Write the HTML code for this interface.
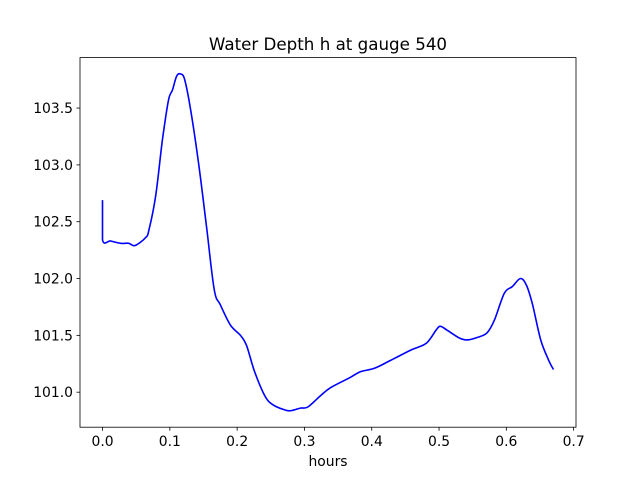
<!DOCTYPE html>
<html><head><meta charset="utf-8"><style>
body{margin:0;background:#fff}
svg text{font-family:"DejaVu Sans","Liberation Sans",sans-serif;font-size:13.9px;fill:#000}
</style></head><body>
<svg id="chart" width="640" height="480" xmlns="http://www.w3.org/2000/svg">
<rect width="640" height="480" fill="#fff"/>
<text x="328" y="50" text-anchor="middle" style="font-size:16.7px">Water Depth h at gauge 540</text>
<g id="plot"></g>
<rect x="80" y="57.6" width="496" height="369.6" fill="none" stroke="#000" stroke-width="0.8"/>
<text x="328" y="466" text-anchor="middle">hours</text>
</svg>
<script>
const hours=[0,0,0.012,0.027,0.039,0.048,0.064,0.069,0.079,0.089,0.098,0.104,0.11,0.116,0.122,0.131,0.143,0.155,0.166,0.175,0.19,0.205,0.214,0.226,0.241,0.253,0.273,0.282,0.294,0.305,0.324,0.339,0.368,0.383,0.404,0.428,0.458,0.481,0.496,0.502,0.511,0.529,0.541,0.556,0.571,0.582,0.597,0.609,0.621,0.63,0.639,0.651,0.663,0.67];
const depth=[102.69,102.34,102.33,102.31,102.31,102.29,102.36,102.43,102.73,103.22,103.57,103.66,103.78,103.8,103.75,103.48,103.0,102.43,101.9,101.77,101.59,101.5,101.41,101.18,100.97,100.89,100.84,100.84,100.86,100.87,100.97,101.04,101.13,101.18,101.21,101.28,101.37,101.43,101.55,101.58,101.55,101.48,101.46,101.48,101.52,101.63,101.87,101.93,102.0,101.94,101.77,101.46,101.28,101.2];
const xTicks=[0,0.1,0.2,0.3,0.4,0.5,0.6,0.7];
const yTicks=[101.0,101.5,102.0,102.5,103.0,103.5];
const L=80,R=576,T=57.6,B=427.2;
const xmin=-0.0335,xmax=0.7035,ymin=100.692,ymax=103.944;
const sx=v=>L+(v-xmin)/(xmax-xmin)*(R-L);
const sy=v=>B-(v-ymin)/(ymax-ymin)*(B-T);
const NS="http://www.w3.org/2000/svg";
const g=document.getElementById('plot');
function mk(t,a){const e=document.createElementNS(NS,t);for(const k in a)e.setAttribute(k,a[k]);g.appendChild(e);return e;}
xTicks.forEach(v=>{
 const x=sx(v);
 const tk=mk('line',{x1:x,x2:x,y1:B,y2:B+3.5,stroke:'#000','stroke-width':0.8});
 
 
 const t=mk('text',{x:x,y:B+19,'text-anchor':'middle'});t.textContent=v.toFixed(1);
 
 
});
yTicks.forEach(v=>{
 const y=sy(v);
 const tk=mk('line',{x1:L-3.5,x2:L,y1:y,y2:y,stroke:'#000','stroke-width':0.8});
 
 
 const t=mk('text',{x:L-7,y:y+5,'text-anchor':'end'});t.textContent=v.toFixed(1);
 
 
});
const P=hours.map((h,i)=>[sx(h),sy(depth[i])]);
let d='M'+P[0][0].toFixed(1)+','+P[0][1].toFixed(1);
for(let i=0;i<P.length-1;i++){
 const p0=P[Math.max(i-1,0)],p1=P[i],p2=P[i+1],p3=P[Math.min(i+2,P.length-1)];
 const k=(i===0)?0:1/6, k2=(i+2>=P.length||i===0)?0:1/6;
 const c1=[p1[0]+(p2[0]-p0[0])*k,p1[1]+(p2[1]-p0[1])*k];
 const c2=[p2[0]-(p3[0]-p1[0])*k2,p2[1]-(p3[1]-p1[1])*k2];
 d+=' C'+c1[0].toFixed(1)+','+c1[1].toFixed(1)+' '+c2[0].toFixed(1)+','+c2[1].toFixed(1)+' '+p2[0].toFixed(1)+','+p2[1].toFixed(1);
}
const line=mk('path',{d:d,fill:'none',stroke:'#0000ff','stroke-width':1.6,'stroke-linejoin':'round'});


</script>
</body></html>
